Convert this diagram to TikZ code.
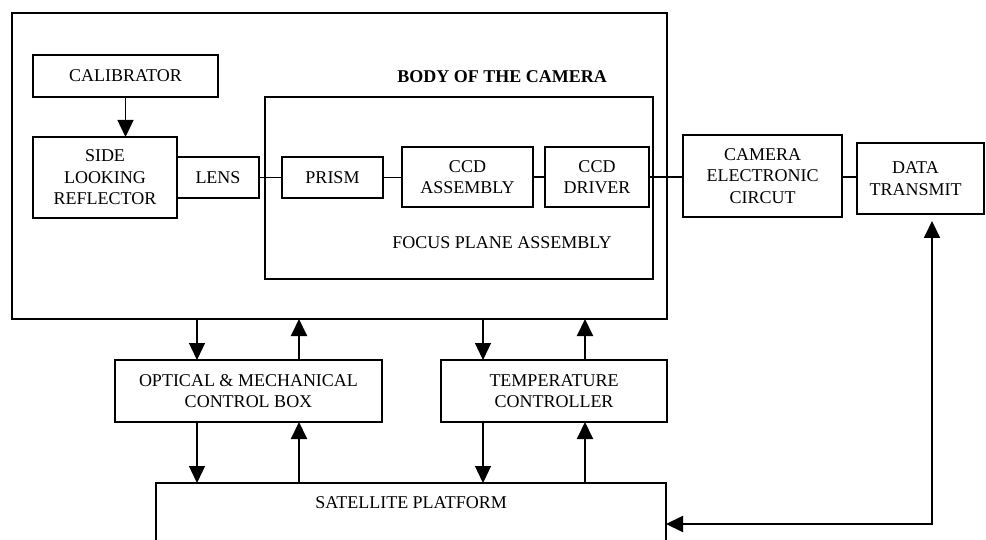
\documentclass[tikz,border=0pt]{standalone}
\usepackage{fontspec}
\setmainfont{Liberation Serif}
\usetikzlibrary{arrows.meta}
\tikzset{
  x=1pt, y=-1pt,
  box/.style={draw, line width=1.5pt, rectangle, inner sep=0pt, outer sep=0pt, align=center,
              font=\fontsize{18}{21.5}\selectfont},
  lbl/.style={inner sep=0pt, align=center, font=\fontsize{18}{21.5}\selectfont},
  conn/.style={line width=1.3pt},
  arrdn/.style={line width=1.3pt, -{Triangle[length=17pt,width=16pt]}},
  arrup/.style={line width=2pt, -{Triangle[length=17pt,width=16pt]}},
}
\begin{document}
\begin{tikzpicture}
\useasboundingbox (0,0) rectangle (986,540);
% outer body
\node[box, minimum width=655pt, minimum height=306pt] (body) at (339.5,166) {};
\node[lbl, font=\fontsize{18}{21.5}\selectfont\bfseries] (bodylbl) at (502,77) {BODY OF THE CAMERA};
% left column
\node[box, minimum width=185pt, minimum height=42pt] (cal) at (125.5,76) {CALIBRATOR};
\node[box, minimum width=144pt, minimum height=81pt] (refl) at (105,177.5) {SIDE\\LOOKING\\REFLECTOR};
\node[box, minimum width=82pt, minimum height=41pt] (lens) at (218,177.5) {LENS};
% focus plane
\node[box, minimum width=388pt, minimum height=182pt] (fpa) at (459,188) {};
\node[lbl] (fpalbl) at (502,243) {FOCUS PLANE ASSEMBLY};
\node[box, minimum width=101pt, minimum height=41pt] (prism) at (332.5,177.5) {PRISM};
\node[box, minimum width=131pt, minimum height=60pt] (ccda) at (467.5,177) {CCD\\ASSEMBLY};
\node[box, minimum width=104pt, minimum height=60pt] (ccdd) at (597,177) {CCD\\DRIVER};
% right column
\node[box, minimum width=159pt, minimum height=82pt] (cec) at (762.5,176) {CAMERA\\ELECTRONIC\\CIRCUT};
\node[box, minimum width=127pt, minimum height=71pt] (dt) at (920.5,178.5) {DATA\hspace*{10pt}\\TRANSMIT\hspace*{10pt}};
% controllers
\node[box, minimum width=267pt, minimum height=62pt] (opt) at (248.5,391) {OPTICAL \& MECHANICAL\\CONTROL BOX};
\node[box, minimum width=226pt, minimum height=62pt] (temp) at (554,391) {TEMPERATURE\\CONTROLLER};
% satellite platform (open at the bottom)
\node[inner sep=0pt, outer sep=0pt, minimum width=510pt, minimum height=57pt] (sat) at (411,511.5) {};
\draw[line width=1.5pt] (sat.south west) -- (sat.north west) -- (sat.north east) -- (sat.south east);
\node[lbl] (satlbl) at (411,503) {SATELLITE PLATFORM};
% helper x positions
\coordinate (c1) at (197,0);
\coordinate (c2) at (299,0);
\coordinate (c3) at (483,0);
\coordinate (c4) at (585,0);
\coordinate (dtx) at (932,524);
% connectors
\draw[arrdn] (cal) -- (cal.south |- refl.north);
\draw[conn] (lens.east) -- (prism.west |- lens.east);
\draw[conn] (prism.east) -- (ccda.west |- prism.east);
\draw[conn] (ccda.east) -- (ccdd.west);
\draw[conn] (ccdd.east) -- (cec.west |- ccdd.east);
\draw[conn] (cec.east |- ccdd.east) -- (dt.west |- ccdd.east);
% vertical arrows
\draw[arrdn] (body.south -| c1) -- (opt.north -| c1);
\draw[arrup] (opt.north -| c2) -- (body.south -| c2);
\draw[arrdn] (opt.south -| c1) -- (sat.north -| c1);
\draw[arrup] (sat.north -| c2) -- (opt.south -| c2);
\draw[arrdn] (body.south -| c3) -- (temp.north -| c3);
\draw[arrup] (temp.north -| c4) -- (body.south -| c4);
\draw[arrdn] (temp.south -| c3) -- (sat.north -| c3);
\draw[arrup] (sat.north -| c4) -- (temp.south -| c4);
% data link
\draw[line width=2pt, {Triangle[length=17pt,width=16pt]}-{Triangle[length=17pt,width=16pt]}, shorten <=7pt]
  (dt.south -| dtx) -- (dtx) -- (sat.east |- dtx);
\end{tikzpicture}
\end{document}
